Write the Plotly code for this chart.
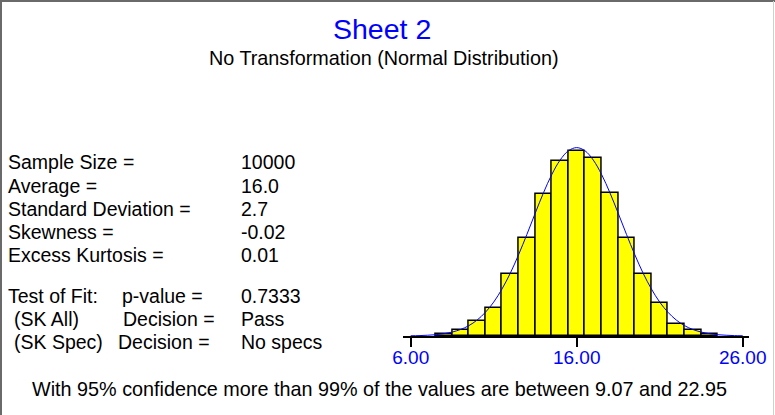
import plotly.graph_objects as go

# ---- data ----
bin_centers = [8, 9, 10, 11, 12, 13, 14, 15, 16, 17, 18, 19, 20, 21, 22, 23, 24]
bin_counts = [18, 50, 120, 222, 490, 765, 1112, 1376, 1455, 1400, 1125, 772, 490, 262, 97, 50, 18]

curve_x = [6, 6.5, 7, 7.5, 8, 8.5, 9, 9.5, 10, 10.5, 11, 11.5, 12, 12.5, 13, 13.5, 14, 14.5,
           15, 15.5, 16, 16.5, 17, 17.5, 18, 18.5, 19, 19.5, 20, 20.5, 21, 21.5, 22, 22.5,
           23, 23.5, 24, 24.5, 25, 25.5, 26]
curve_y = [2, 3, 6, 10, 18, 31, 51, 81, 125, 186, 266, 369, 493, 638, 797, 963, 1124, 1267,
           1380, 1453, 1478, 1453, 1380, 1267, 1124, 963, 797, 638, 493, 369, 266, 186, 125, 81,
           51, 31, 18, 10, 6, 3, 2]

tick_vals = [6, 16, 26]
tick_text = ["6.00", "16.00", "26.00"]

title_text = "Sheet 2"
subtitle_text = "No Transformation (Normal Distribution)"
stat_labels = ["Sample Size =", "Average =", "Standard Deviation =", "Skewness =", "Excess Kurtosis ="]
stat_values = ["10000", "16.0", "2.7", "-0.02", "0.01"]
fit_labels = ["Test of Fit:", "(SK All)", "(SK Spec)"]
fit_mid = ["p-value =", "Decision =", "Decision ="]
fit_values = ["0.7333", "Pass", "No specs"]
footer_text = "With 95% confidence more than 99% of the values are between 9.07 and 22.95"

W, H = 775, 415
FONT = "Liberation Sans, Arial, sans-serif"
FS = 19.5
FS_WIDE = 19.8


def px(x):
    return x / W


def py(y):
    return 1 - y / H


fig = go.Figure()
fig.add_trace(go.Bar(
    x=bin_centers, y=bin_counts, width=1,
    marker=dict(color="#FFFF00", line=dict(color="black", width=1.5)),
    hoverinfo="skip",
))
fig.add_trace(go.Scatter(
    x=curve_x, y=curve_y, mode="lines",
    line=dict(color="#0000FF", width=1, shape="spline"),
    hoverinfo="skip",
))

ann = []
ann.append(dict(x=px(382), y=py(29), text=title_text, xanchor="center", yanchor="middle",
                font=dict(family=FONT, size=28.5, color="#0000FF")))
ann.append(dict(x=px(384), y=py(58), text=subtitle_text, xanchor="center", yanchor="middle",
                font=dict(family=FONT, size=FS_WIDE, color="black")))
rows = [162.3, 185.7, 208.7, 231.7, 255]
for lab, val, yy in zip(stat_labels, stat_values, rows):
    ann.append(dict(x=px(5.5), y=py(yy), text=lab, xanchor="left", yanchor="middle",
                    font=dict(family=FONT, size=FS, color="black")))
    ann.append(dict(x=px(238.5), y=py(yy), text=val, xanchor="left", yanchor="middle",
                    font=dict(family=FONT, size=FS, color="black")))
rows2 = [295.5, 319.3, 342.3]
lab_x = [5.5, 11.5, 11.5]
mid_x = [120, 121, 115.5]
for lab, mid, val, yy, lx, mx in zip(fit_labels, fit_mid, fit_values, rows2, lab_x, mid_x):
    ann.append(dict(x=px(lx), y=py(yy), text=lab, xanchor="left", yanchor="middle",
                    font=dict(family=FONT, size=FS, color="black")))
    ann.append(dict(x=px(mx), y=py(yy), text=mid, xanchor="left", yanchor="middle",
                    font=dict(family=FONT, size=FS, color="black")))
    ann.append(dict(x=px(238.5), y=py(yy), text=val, xanchor="left", yanchor="middle",
                    font=dict(family=FONT, size=FS, color="black")))
ann.append(dict(x=px(379.5), y=py(389), text=footer_text, xanchor="center", yanchor="middle",
                font=dict(family=FONT, size=FS_WIDE, color="black")))
for a in ann:
    a.update(xref="paper", yref="paper", showarrow=False)

shapes = [
    dict(type="line", xref="paper", yref="paper", x0=px(1), x1=px(1), y0=0, y1=1,
         line=dict(color="#6a6a6a", width=2)),
    dict(type="line", xref="paper", yref="paper", x0=0, x1=1, y0=py(1), y1=py(1),
         line=dict(color="#6a6a6a", width=2)),
    dict(type="line", xref="paper", yref="paper", x0=px(773.5), x1=px(773.5), y0=0, y1=py(1),
         line=dict(color="#d4d0c8", width=1)),
]

x_lo, x_hi = 402.7, 749.3
base_y, top_y = 336.0, 140.0
counts_per_px = 1478 / 188.4

fig.update_layout(
    width=W, height=H,
    autosize=False,
    margin=dict(l=0, r=0, t=0, b=0, pad=0, autoexpand=False),
    paper_bgcolor="white", plot_bgcolor="white",
    showlegend=False, bargap=0,
    annotations=ann, shapes=shapes,
    xaxis=dict(
        domain=[px(x_lo), px(x_hi)],
        range=[6 - (410.7 - x_lo) / 16.6, 6 + (x_hi - 410.7) / 16.6],
        showgrid=False, zeroline=False, automargin=False,
        showline=True, linecolor="black", linewidth=2,
        ticks="outside", ticklen=9, tickwidth=1.5, tickcolor="black",
        tickvals=tick_vals, ticktext=tick_text, ticklabelstandoff=-6,
        tickfont=dict(family=FONT, size=19, color="#0000FF"),
        fixedrange=True,
    ),
    yaxis=dict(
        domain=[py(base_y), py(top_y)],
        range=[0, (base_y - top_y) * counts_per_px],
        visible=False, showgrid=False, zeroline=False, fixedrange=True, automargin=False,
    ),
)

fig.write_html(
    "out.html",
    config={"displayModeBar": False},
    post_script="document.body.style.margin='0';document.body.style.overflow='hidden';",
)
